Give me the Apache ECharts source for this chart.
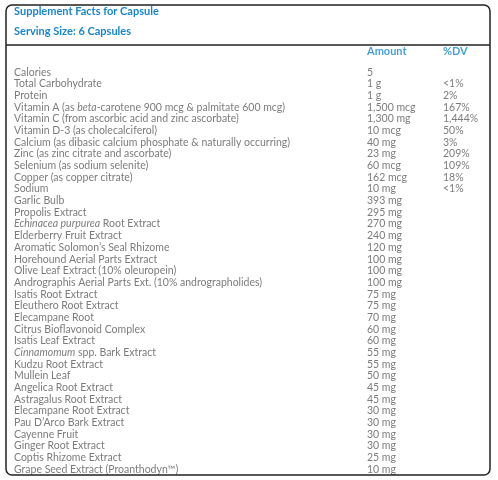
<!DOCTYPE html>
<html><head><meta charset="utf-8">
<script src="https://cdn.jsdelivr.net/npm/echarts@6/dist/echarts.min.js"></script>
<style>html,body{margin:0;padding:0;background:#fff}#c{width:498px;height:480px}</style>
</head><body><div id="c"></div>
<script>
const titleText = 'Supplement Facts for Capsule';
const servingText = 'Serving Size: 6 Capsules';
const headerAmount = 'Amount';
const headerDV = '%DV';
const ingredients = [
  'Calories',
  'Total Carbohydrate',
  'Protein',
  'Vitamin A (as beta-carotene 900 mcg & palmitate 600 mcg)',
  'Vitamin C (from ascorbic acid and zinc ascorbate)',
  'Vitamin D-3 (as cholecalciferol)',
  'Calcium (as dibasic calcium phosphate & naturally occurring)',
  'Zinc (as zinc citrate and ascorbate)',
  'Selenium (as sodium selenite)',
  'Copper (as copper citrate)',
  'Sodium',
  'Garlic Bulb',
  'Propolis Extract',
  'Echinacea purpurea Root Extract',
  'Elderberry Fruit Extract',
  'Aromatic Solomon\u2019s Seal Rhizome',
  'Horehound Aerial Parts Extract',
  'Olive Leaf Extract (10% oleuropein)',
  'Andrographis Aerial Parts Ext. (10% andrographolides)',
  'Isatis Root Extract',
  'Eleuthero Root Extract',
  'Elecampane Root',
  'Citrus Bioflavonoid Complex',
  'Isatis Leaf Extract',
  'Cinnamomum spp. Bark Extract',
  'Kudzu Root Extract',
  'Mullein Leaf',
  'Angelica Root Extract',
  'Astragalus Root Extract',
  'Elecampane Root Extract',
  'Pau D\u2019Arco Bark Extract',
  'Cayenne Fruit',
  'Ginger Root Extract',
  'Coptis Rhizome Extract',
  'Grape Seed Extract (Proanthodyn\u2122)'
];
const amounts = [
  '5','1 g','1 g','1,500 mcg','1,300 mg','10 mcg','40 mg','23 mg','60 mcg','162 mcg','10 mg',
  '393 mg','295 mg','270 mg','240 mg','120 mg','100 mg','100 mg','100 mg','75 mg','75 mg',
  '70 mg','60 mg','60 mg','55 mg','55 mg','50 mg','45 mg','45 mg','30 mg','30 mg','30 mg',
  '30 mg','25 mg','10 mg'
];
const dailyValues = [
  '','<1%','2%','167%','1,444%','50%','3%','209%','109%','18%','<1%'
];
const italicTerms = ['beta', 'Echinacea purpurea', 'Cinnamomum'];

// layout
const COL_NAME = 14, COL_AMOUNT = 367, COL_DV = 443;
const ROW0 = 72.3, ROW_STEP = 11.676, HEADER_ROW = -1.8;
const BLUE = '#1a87c9', GRAY = '#5a5a5a';
const FONT = 'Lato';
const FS = 10.5;

function richName(s){
  let out = s;
  italicTerms.forEach(t => { out = out.replace(t, '{i|' + t + '}'); });
  return out;
}

const chart = echarts.init(document.getElementById('c'), null, {renderer:'canvas'});
const textSeries = (data, fmt, style) => ({
  type:'scatter', symbolSize:0, clip:false, silent:true,
  data: data,
  label: Object.assign({show:true, position:'right', distance:0, formatter: fmt,
    fontFamily: FONT, fontSize: FS, color: GRAY}, style || {})
});
const option = {
  animation:false,
  backgroundColor:'#ffffff',
  title:[
    {text:titleText, left:COL_NAME, top:5, padding:0,
      textStyle:{fontFamily:FONT, fontSize:11, fontWeight:'bold', color:BLUE, lineHeight:13}},
    {text:servingText, left:COL_NAME, top:24.5, padding:0,
      textStyle:{fontFamily:FONT, fontSize:11, fontWeight:'bold', color:BLUE, lineHeight:13}}
  ],
  grid:{left:0, right:0, top: ROW0 + 2*(-ROW_STEP), height: 36*ROW_STEP},
  xAxis:{type:'value', min:0, max:498, show:false},
  yAxis:{type:'value', inverse:true, min:-2, max:34, show:false},
  graphic:[
    {type:'rect', shape:{x:6, y:5, width:484, height:470, r:6},
      style:{fill:'none', stroke:'#222', lineWidth:1.5}, z:10},
    {type:'line', shape:{x1:6, y1:45, x2:490, y2:45},
      style:{stroke:'#222', lineWidth:1.5}, z:10}
  ],
  series:[
    textSeries(ingredients.map((n,i)=>({value:[COL_NAME,i], name:n})),
      p => richName(p.name),
      {rich:{i:{fontStyle:'italic', fontFamily:FONT, fontSize:FS, color:GRAY}}}),
    textSeries(amounts.map((a,i)=>({value:[COL_AMOUNT,i], name:a})), p => p.name),
    textSeries(dailyValues.map((d,i)=>({value:[COL_DV,i], name:d})), p => p.name),
    textSeries([{value:[COL_AMOUNT,HEADER_ROW], name:headerAmount},{value:[COL_DV,HEADER_ROW], name:headerDV}],
      p => p.name, {fontWeight:'bold', color:BLUE, fontSize:11})
  ]
};
chart.setOption(option);
</script></body></html>
